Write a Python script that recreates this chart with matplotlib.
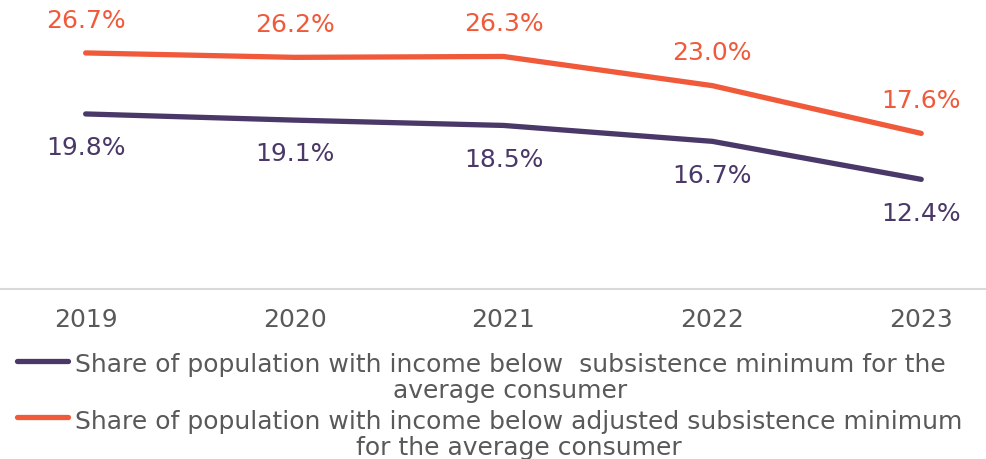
import matplotlib
matplotlib.use('Agg')
import matplotlib.pyplot as plt
from matplotlib.lines import Line2D

years = ['2019', '2020', '2021', '2022', '2023']
below_minimum = [19.8, 19.1, 18.5, 16.7, 12.4]
below_adjusted = [26.7, 26.2, 26.3, 23.0, 17.6]

label_minimum = 'Share of population with income below  subsistence minimum for the\naverage consumer'
label_adjusted = 'Share of population with income below adjusted subsistence minimum\nfor the average consumer'

purple = '#4A3868'
orange = '#F05A3A'
grey = '#595959'
fs = 18

fig = plt.figure(figsize=(9.86, 4.6), dpi=100)
ax = fig.add_axes([0, 170 / 460, 1, 290 / 460])

x = range(len(years))
ax.plot(x, below_minimum, color=purple, linewidth=3.8, solid_capstyle='round')
ax.plot(x, below_adjusted, color=orange, linewidth=3.8, solid_capstyle='round')

for xi, v in zip(x, below_minimum):
    ax.annotate('%.1f%%' % v, (xi, v), xytext=(0, -24), textcoords='offset points',
                ha='center', va='center', fontsize=fs, color=purple)
for xi, v in zip(x, below_adjusted):
    ax.annotate('%.1f%%' % v, (xi, v), xytext=(0, 24), textcoords='offset points',
                ha='center', va='center', fontsize=fs, color=orange)

ax.set_xlim(-0.41, 4.31)
ax.set_ylim(0, 32.8)
ax.set_xticks(list(x))
ax.set_xticklabels(years, fontsize=fs, color=grey)
ax.tick_params(axis='x', length=0, pad=13)
ax.set_yticks([])
for s in ['top', 'left', 'right']:
    ax.spines[s].set_visible(False)
ax.spines['bottom'].set_color('#D9D9D9')
ax.spines['bottom'].set_linewidth(1.5)
ax.patch.set_alpha(0)

# legend drawn by hand so the handle sits on the first text line
entries = [(label_minimum, purple, 398, 362), (label_adjusted, orange, 455, 418)]
for text, col, base, hy in entries:
    fig.add_artist(Line2D([17 / 986, 68 / 986], [1 - hy / 460, 1 - hy / 460],
                          transform=fig.transFigure, color=col, linewidth=3.8,
                          solid_capstyle='round'))
    fig.text(75 / 986, 1 - base / 460, text, ha='left', va='baseline',
             multialignment='center', fontsize=fs, color=grey, linespacing=1.12)

fig.savefig('out.png', dpi=100)
